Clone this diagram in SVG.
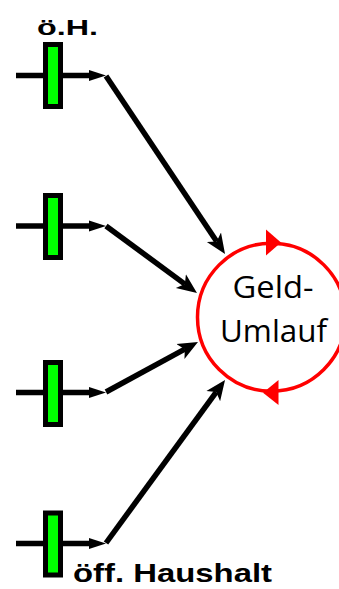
<svg xmlns="http://www.w3.org/2000/svg" width="339" height="589" viewBox="0 0 339 589">
  <style>
    .wire { stroke: #000; stroke-width: 5.5; fill: none; }
    .in { marker-end: url(#small); }
    .flow { marker-end: url(#big); }
    .box { fill: #00ff00; stroke: #000; stroke-width: 5; }
    .ring { fill: #fff; stroke: #ff0000; stroke-width: 3.5; }
    .redhead { fill: #ff0000; }
    .lbl { font-family: "Liberation Sans", Arial, sans-serif; font-weight: bold; fill: #000; }
    .ctr { font-family: "Open Sans", "Liberation Sans", sans-serif; font-size: 31px; fill: #000; text-anchor: middle; }
  </style>
  <defs>
    <marker id="small" markerUnits="userSpaceOnUse" markerWidth="20" markerHeight="14" viewBox="0 -7 20 14" refX="0" refY="0" orient="auto">
      <path d="M0,-5.5 L17,0 L0,5.5 Z" fill="#000"/>
    </marker>
    <marker id="big" markerUnits="userSpaceOnUse" markerWidth="24" markerHeight="20" viewBox="0 -10 24 20" refX="5" refY="0" orient="auto">
      <path d="M0,-8.5 L20,0 L0,8.5 L5,0 Z" fill="#000"/>
    </marker>
  </defs>

  <g id="connectors">
    <line class="wire in" x1="16" y1="75.5" x2="89" y2="75.5"/>
    <line class="wire in" x1="16" y1="226" x2="89" y2="226"/>
    <line class="wire in" x1="16" y1="392.5" x2="89" y2="392.5"/>
    <line class="wire in" x1="16" y1="543.5" x2="89" y2="543.5"/>
    <line class="wire flow" x1="106" y1="76" x2="216.7" y2="241.5"/>
    <line class="wire flow" x1="106" y1="226" x2="184.9" y2="284.1"/>
    <line class="wire flow" x1="106" y1="392" x2="184.8" y2="349.2"/>
    <line class="wire flow" x1="106" y1="543" x2="216.2" y2="392.1"/>
  </g>

  <g id="node-oeH">
    <rect class="box" x="45.5" y="44.5" width="15" height="62"/>
    <text class="lbl" x="37" y="35" font-size="22" textLength="61" lengthAdjust="spacingAndGlyphs">ö.H.</text>
  </g>
  <g id="node-2">
    <rect class="box" x="45.5" y="195.5" width="15" height="62"/>
  </g>
  <g id="node-3">
    <rect class="box" x="45.5" y="362.5" width="15" height="62"/>
  </g>
  <g id="node-oeffHaushalt">
    <rect class="box" x="45.5" y="513" width="15" height="62"/>
    <text class="lbl" x="73" y="582" font-size="26" textLength="199" lengthAdjust="spacingAndGlyphs">öff. Haushalt</text>
  </g>

  <g id="node-geldumlauf">
    <circle class="ring" cx="271.5" cy="317.2" r="74"/>
    <polygon class="redhead" points="266,229.5 281,242.5 266,255.5"/>
    <polygon class="redhead" points="278.5,380 263,392.8 278.5,405"/>
    <text class="ctr" x="273" y="298" textLength="81" lengthAdjust="spacingAndGlyphs">Geld-</text>
    <text class="ctr" x="273.5" y="341.5" textLength="107" lengthAdjust="spacingAndGlyphs">Umlauf</text>
  </g>
</svg>
